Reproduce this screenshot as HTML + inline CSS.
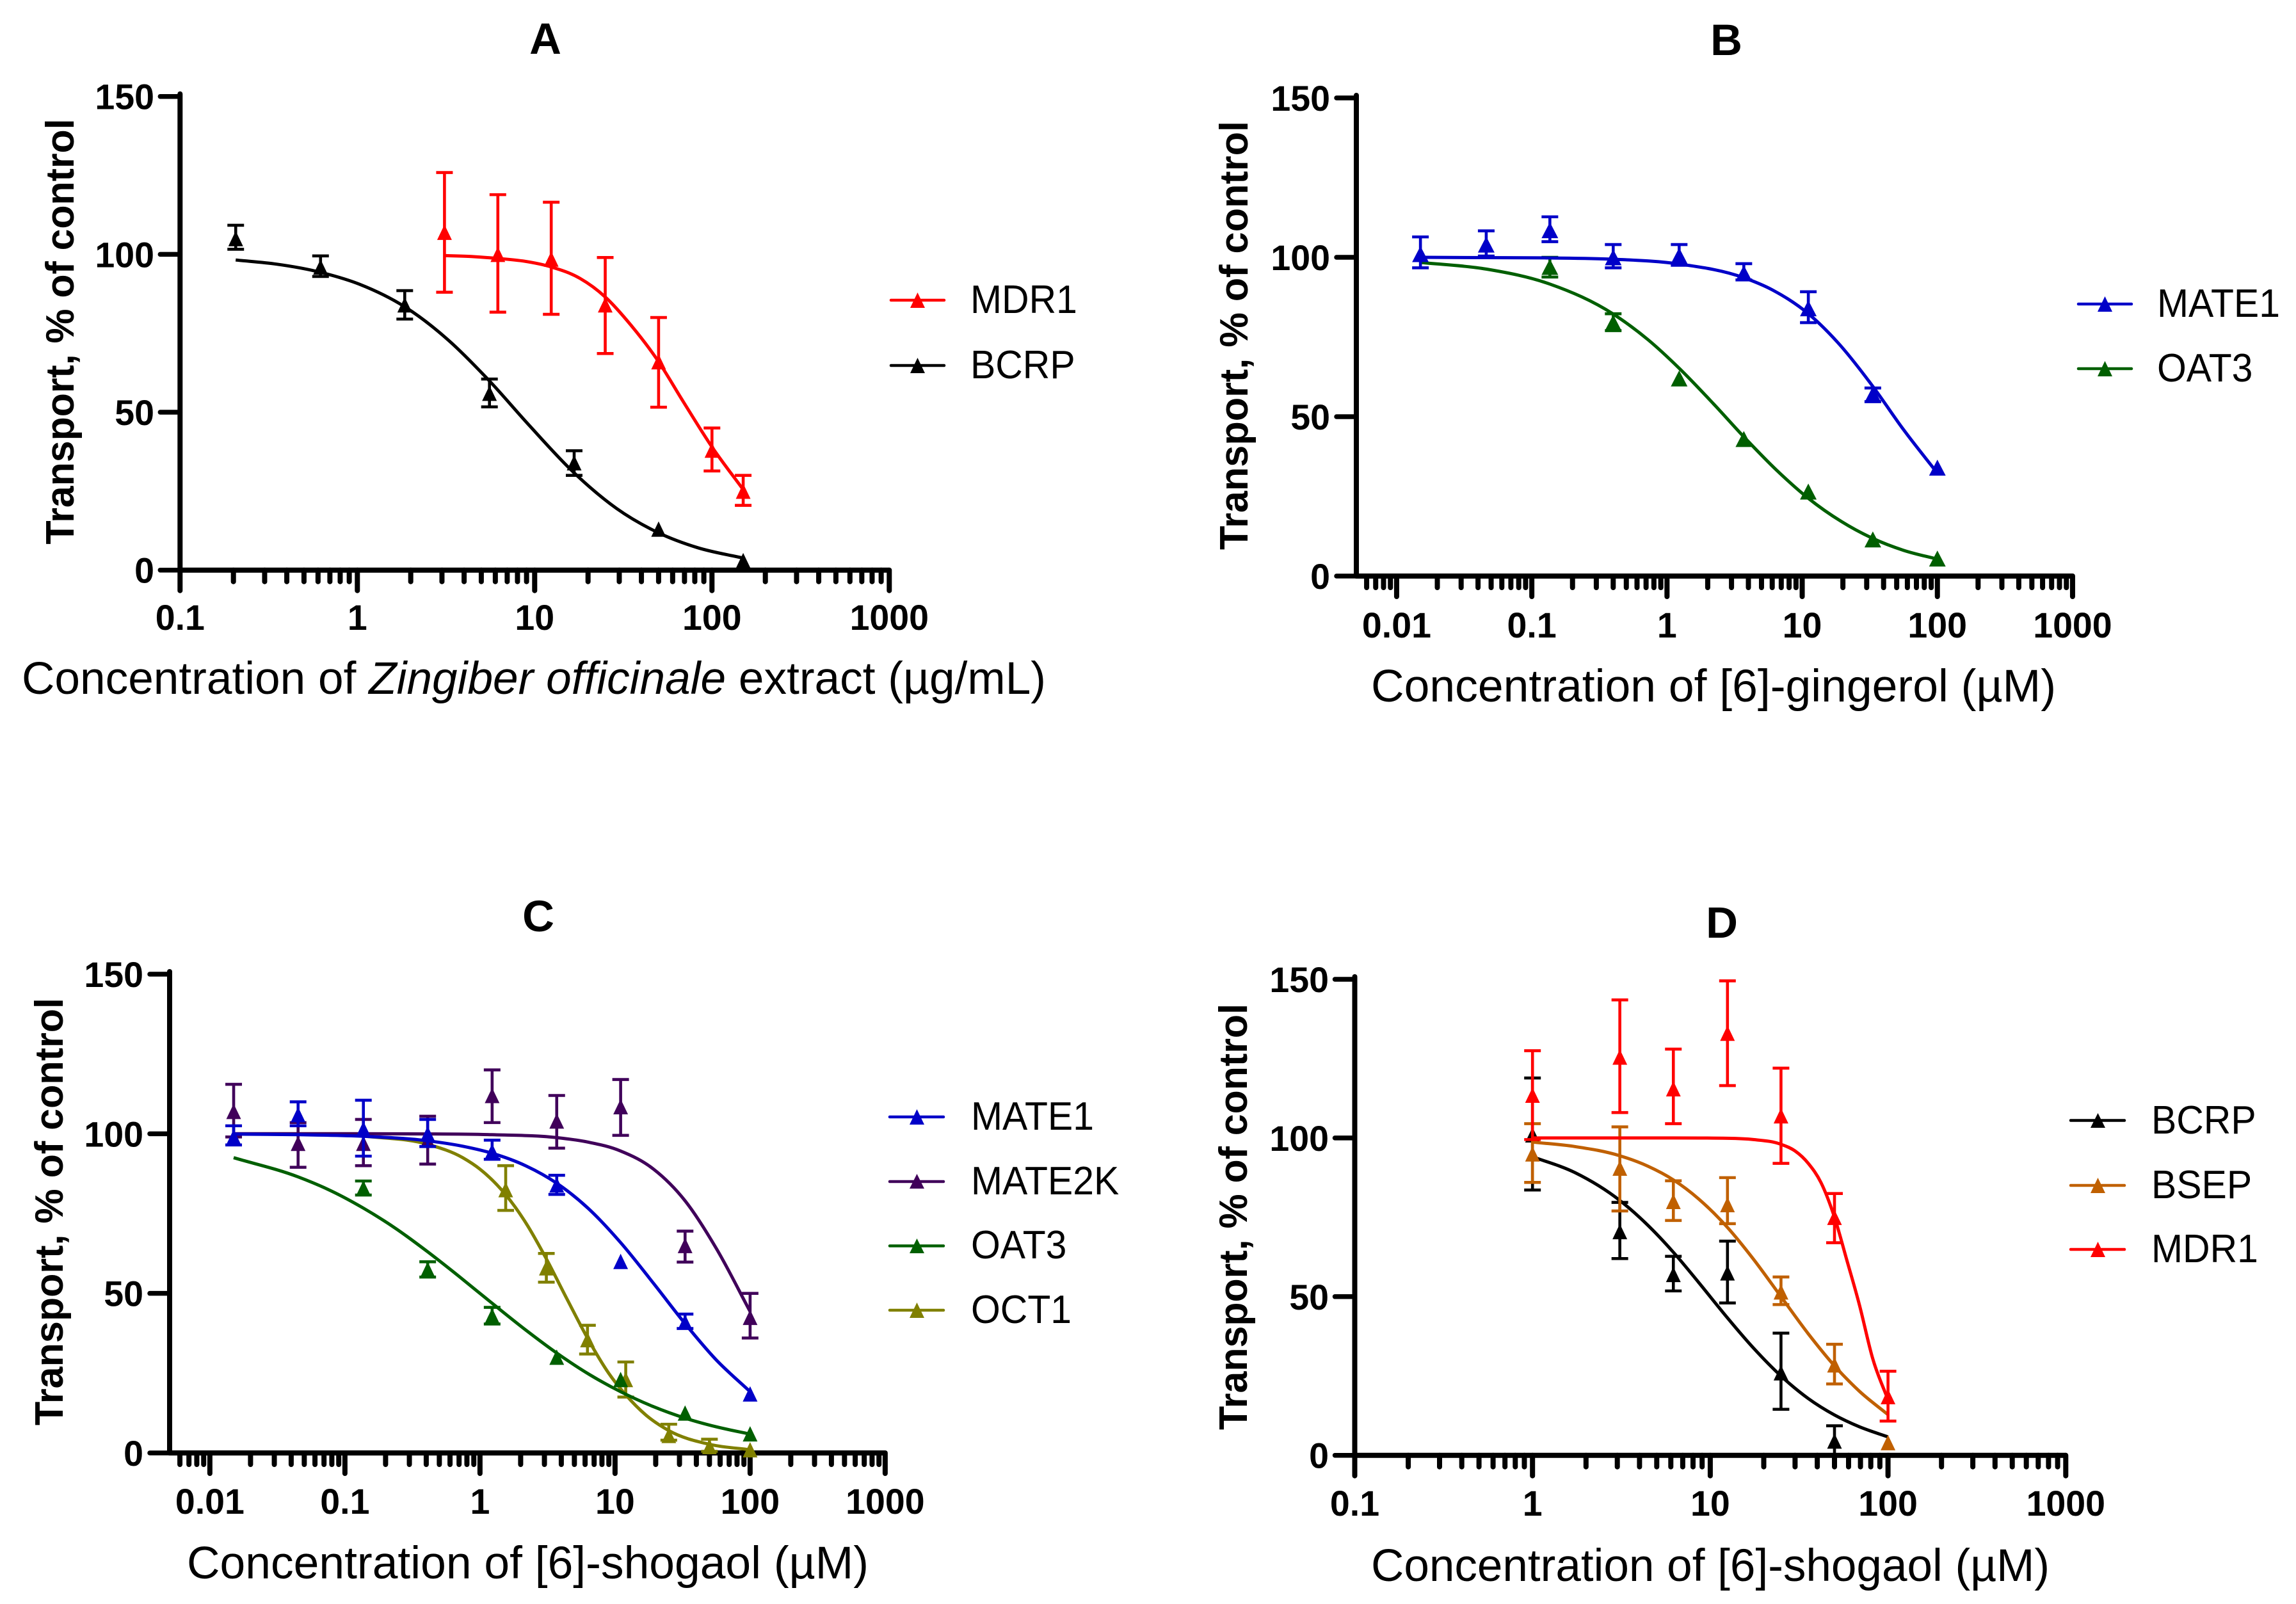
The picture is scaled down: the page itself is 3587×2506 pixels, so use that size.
<!DOCTYPE html>
<html lang="en">
<head>
<meta charset="utf-8">
<title>Transport inhibition dose-response curves</title>
<style>
html,body{margin:0;padding:0;background:#fff;}
svg{display:block;}
text{font-family:"Liberation Sans",Arial,sans-serif;fill:#000;}
.panel-title{font-size:69px;font-weight:bold;text-anchor:middle;}
.y-title{font-size:62px;font-weight:bold;text-anchor:middle;}
.x-title{font-size:71px;}
.legend-text{font-size:62px;}
.tick{font-size:55.5px;font-weight:bold;}
</style>
</head>
<body>
<svg id="chart" xmlns="http://www.w3.org/2000/svg" width="3587" height="2506" viewBox="0 0 3587 2506">
  <rect x="0" y="0" width="3587" height="2506" fill="#ffffff"/>

  <g id="panel-a">
    <text class="panel-title" x="852" y="84">A</text>
    <text class="y-title" transform="translate(115 518) rotate(-90)" textLength="665" lengthAdjust="spacingAndGlyphs">Transport, % of control</text>
    <text class="x-title" x="34" y="1084" textLength="1600" lengthAdjust="spacingAndGlyphs">Concentration of <tspan font-style="italic">Zingiber officinale</tspan> extract (µg/mL)</text>
    <g>
      <g>
        <line x1="1392" x2="1475" y1="469" y2="469" stroke="#ff0000" stroke-width="4.5" stroke-linecap="round"/>
        <polygon points="1422,481 1445,481 1433.5,457" fill="#ff0000"/>
        <text class="legend-text" transform="translate(1516 489) scale(.95 1)">MDR1</text>
      </g>
      <g>
        <line x1="1392" x2="1475" y1="571" y2="571" stroke="#000000" stroke-width="4.5" stroke-linecap="round"/>
        <polygon points="1422,583 1445,583 1433.5,559" fill="#000000"/>
        <text class="legend-text" transform="translate(1516 591) scale(.95 1)">BCRP</text>
      </g>
    </g>
  </g>

  <g id="panel-b">
    <text class="panel-title" x="2697" y="86">B</text>
    <text class="y-title" transform="translate(1949 524) rotate(-90)" textLength="670" lengthAdjust="spacingAndGlyphs">Transport, % of control</text>
    <text class="x-title" x="2142" y="1096" textLength="1070" lengthAdjust="spacingAndGlyphs">Concentration of [6]-gingerol (µM)</text>
    <g>
      <g>
        <line x1="3247" x2="3330" y1="475" y2="475" stroke="#0000c8" stroke-width="4.5" stroke-linecap="round"/>
        <polygon points="3277,487 3300,487 3288.5,463" fill="#0000c8"/>
        <text class="legend-text" transform="translate(3370 495) scale(.95 1)">MATE1</text>
      </g>
      <g>
        <line x1="3247" x2="3330" y1="576" y2="576" stroke="#005f00" stroke-width="4.5" stroke-linecap="round"/>
        <polygon points="3277,588 3300,588 3288.5,564" fill="#005f00"/>
        <text class="legend-text" transform="translate(3370 596) scale(.95 1)">OAT3</text>
      </g>
    </g>
  </g>

  <g id="panel-c">
    <text class="panel-title" x="841" y="1455">C</text>
    <text class="y-title" transform="translate(98 1893) rotate(-90)" textLength="668" lengthAdjust="spacingAndGlyphs">Transport, % of control</text>
    <text class="x-title" x="292" y="2466" textLength="1065" lengthAdjust="spacingAndGlyphs">Concentration of [6]-shogaol (µM)</text>
    <g>
      <g>
        <line x1="1390" x2="1474" y1="1745" y2="1745" stroke="#0000c8" stroke-width="4.5" stroke-linecap="round"/>
        <polygon points="1421,1757 1444,1757 1432.5,1733" fill="#0000c8"/>
        <text class="legend-text" transform="translate(1517 1765) scale(.95 1)">MATE1</text>
      </g>
      <g>
        <line x1="1390" x2="1474" y1="1846" y2="1846" stroke="#40005a" stroke-width="4.5" stroke-linecap="round"/>
        <polygon points="1421,1857 1444,1857 1432.5,1834" fill="#40005a"/>
        <text class="legend-text" transform="translate(1517 1866) scale(.95 1)">MATE2K</text>
      </g>
      <g>
        <line x1="1390" x2="1474" y1="1946.5" y2="1946.5" stroke="#005f00" stroke-width="4.5" stroke-linecap="round"/>
        <polygon points="1421,1958 1444,1958 1432.5,1935" fill="#005f00"/>
        <text class="legend-text" transform="translate(1517 1966) scale(.95 1)">OAT3</text>
      </g>
      <g>
        <line x1="1390" x2="1474" y1="2047" y2="2047" stroke="#808000" stroke-width="4.5" stroke-linecap="round"/>
        <polygon points="1421,2059 1444,2059 1432.5,2035" fill="#808000"/>
        <text class="legend-text" transform="translate(1517 2067) scale(.95 1)">OCT1</text>
      </g>
    </g>
  </g>

  <g id="panel-d">
    <text class="panel-title" x="2690" y="1465">D</text>
    <text class="y-title" transform="translate(1948 1901) rotate(-90)" textLength="666" lengthAdjust="spacingAndGlyphs">Transport, % of control</text>
    <text class="x-title" x="2142" y="2470" textLength="1060" lengthAdjust="spacingAndGlyphs">Concentration of [6]-shogaol (µM)</text>
    <g>
      <g>
        <line x1="3235" x2="3319" y1="1750.5" y2="1750.5" stroke="#000000" stroke-width="4.5" stroke-linecap="round"/>
        <polygon points="3266,1762 3289,1762 3277.5,1739" fill="#000000"/>
        <text class="legend-text" transform="translate(3361 1771) scale(.95 1)">BCRP</text>
      </g>
      <g>
        <line x1="3235" x2="3319" y1="1852" y2="1852" stroke="#c06000" stroke-width="4.5" stroke-linecap="round"/>
        <polygon points="3266,1864 3289,1864 3277.5,1840" fill="#c06000"/>
        <text class="legend-text" transform="translate(3361 1872) scale(.95 1)">BSEP</text>
      </g>
      <g>
        <line x1="3235" x2="3319" y1="1952" y2="1952" stroke="#ff0000" stroke-width="4.5" stroke-linecap="round"/>
        <polygon points="3266,1964 3289,1964 3277.5,1940" fill="#ff0000"/>
        <text class="legend-text" transform="translate(3361 1972) scale(.95 1)">MDR1</text>
      </g>
    </g>
  </g>
</svg>

<script>
// ---------- shared tick values ----------
const yTickValues = [0, 50, 100, 150];
const yTickLabels = ['0', '50', '100', '150'];
const xTicksWide = [0.01, 0.1, 1, 10, 100, 1000];
const xLabelsWide = ['0.01', '0.1', '1', '10', '100', '1000'];
const xTicksNarrow = [0.1, 1, 10, 100, 1000];
const xLabelsNarrow = ['0.1', '1', '10', '100', '1000'];

// ---------- Panel A ----------
const aMdr1Conc = [3.1, 6.2, 12.4, 25, 50, 100, 150];
const aMdr1Mean = [107, 100, 98.5, 84, 66, 38, 25];
const aMdr1Low = [88, 81.7, 81, 68.6, 51.6, 31.4, 20.5];
const aMdr1High = [125.9, 118.9, 116.5, 99, 80, 45, 30];
const aMdr1CurveX = [3.1, 4.4, 6.2, 8.8, 12.4, 18, 25, 35, 50, 68.6, 100, 150];
const aMdr1CurveY = [99.6, 99.3, 98.7, 97.8, 96, 92.4, 86.5, 77.5, 66, 53.5, 39, 25.5];

const aBcrpConc = [0.206, 0.62, 1.85, 5.56, 16.7, 50, 150];
const aBcrpMean = [105, 96, 84, 56, 34, 13, 3];
const aBcrpLow = [101.6, 93, 79.5, 51.7, 30, null, null];
const aBcrpHigh = [109.2, 99.5, 88.5, 60.5, 37.8, null, null];
const aBcrpCurveX = [0.206, 0.35, 0.62, 1.03, 1.85, 3.25, 5.56, 9.3, 16.7, 29, 50, 83, 150];
const aBcrpCurveY = [98.2, 96.9, 94.3, 90.5, 83.4, 72.9, 59.9, 45.9, 30.8, 19.5, 11.8, 7.1, 3.8];

// ---------- Panel B ----------
const bMate1Conc = [0.015, 0.046, 0.136, 0.4, 1.23, 3.7, 11.1, 33.3, 100];
const bMate1Mean = [101, 104, 108.5, 100, 100.5, 95, 84, 57, 34];
const bMate1Low = [96.7, 100.4, 104.9, 96.7, 97.5, 92.9, 79.5, 54.7, null];
const bMate1High = [106.4, 108.3, 112.7, 104, 104, 98, 89.2, 59, null];
const bMate1CurveX = [0.015, 0.046, 0.136, 0.4, 1.23, 3.7, 6, 11.1, 18.3, 33.3, 56, 100];
const bMate1CurveY = [100, 99.9, 99.8, 99.4, 97.9, 93.6, 89.8, 82.3, 73.3, 59.5, 46, 32.3];

const bOat3Conc = [0.136, 0.4, 1.23, 3.7, 11.1, 33.3, 100];
const bOat3Mean = [97, 79.5, 62, 43, 26.5, 11.5, 5.5];
const bOat3Low = [93.8, 77, null, null, null, null, null];
const bOat3High = [100, 82.3, null, null, null, null, null];
const bOat3CurveX = [0.015, 0.046, 0.136, 0.4, 0.726, 1.23, 2.2, 3.7, 6.4, 11.1, 19.5, 33.3, 56, 100];
const bOat3CurveY = [98.4, 96.3, 91.6, 82.2, 74.1, 65.2, 54.1, 43.7, 33.4, 24.4, 17.1, 11.8, 8.1, 5.3];

// ---------- Panel C ----------
const cMate1Conc = [0.015, 0.045, 0.137, 0.41, 1.23, 3.7, 11, 33, 100];
const cMate1Mean = [99, 106, 101.5, 100, 94.5, 84, 60, 41, 18.5];
const cMate1Low = [96.5, 102.5, 93, 96, 92, 81, null, 39, null];
const cMate1High = [102.5, 110, 110.5, 104.5, 98, 87, null, 43.5, null];
const cMate1CurveX = [0.015, 0.045, 0.137, 0.41, 0.745, 1.23, 2.2, 3.7, 6.3, 11, 19.3, 33, 56, 100];
const cMate1CurveY = [99.9, 99.7, 99.2, 97.8, 96.1, 93.9, 89.9, 84.5, 76.7, 65.9, 53.1, 40.5, 29.2, 19.2];

const cMate2kConc = [0.015, 0.045, 0.137, 0.41, 1.23, 3.7, 11, 33, 100];
const cMate2kMean = [107, 97, 97, 98, 112, 104, 108.5, 65, 42.5];
const cMate2kLow = [99, 89.5, 90, 90.5, 103.5, 95.5, 99.5, 59.8, 36];
const cMate2kHigh = [115.5, 103.5, 104.5, 105.5, 120, 112, 117, 69.5, 50];
const cMate2kCurveX = [0.015, 0.137, 0.41, 1.23, 3.7, 6.3, 11, 19.3, 33, 56, 100];
const cMate2kCurveY = [100, 100, 99.95, 99.7, 98.8, 97.4, 94.6, 88.9, 79, 64.2, 44.3];

const cOat3Conc = [0.137, 0.41, 1.23, 3.7, 11, 33, 100];
const cOat3Mean = [83, 57.5, 43, 30, 23, 12.5, 6];
const cOat3Low = [80.8, 55.1, 40.4, null, null, null, null];
const cOat3High = [85.2, 59.9, 45.6, null, null, null, null];
const cOat3CurveX = [0.015, 0.045, 0.08, 0.137, 0.24, 0.41, 0.7, 1.23, 2.2, 3.7, 6.5, 11, 19, 33, 56, 100];
const cOat3CurveY = [92.5, 86.5, 82, 76.7, 70.2, 63, 55.3, 46.9, 38.4, 31.3, 24.5, 19.2, 14.6, 10.9, 8.2, 5.9];

const cOct1Conc = [1.55, 3.1, 6.25, 12, 25, 50, 100];
const cOct1Mean = [82.5, 58, 35.5, 23, 5.5, 2, 1];
const cOct1Low = [76, 53.5, 31, 17.5, 4, 0.5, null];
const cOct1High = [90, 62.5, 40, 28.5, 9, 4.3, null];
const cOct1CurveX = [0.137, 0.41, 0.745, 1, 1.55, 2.2, 3.1, 4.4, 6.25, 9, 12, 17, 25, 50, 100];
const cOct1CurveY = [99.3, 96.7, 92.5, 88.9, 80.9, 71.9, 60.8, 48.3, 36, 24.9, 18.2, 11.8, 7, 2.7, 1];

// ---------- Panel D ----------
const dBcrpConc = [1, 3.1, 6.2, 12.5, 25, 50];
const dBcrpMean = [101, 70.5, 57, 57.5, 26, 4.5];
const dBcrpLow = [83.6, 62, 51.8, 48, 14.5, 0];
const dBcrpHigh = [118.9, 79.7, 62.7, 67.5, 38.5, 9.3];
const dBcrpCurveX = [1, 1.73, 3.1, 4.4, 6.2, 8.6, 12.5, 17.5, 25, 35.6, 50, 69, 100];
const dBcrpCurveY = [94.1, 89.1, 80.3, 72.8, 64, 54.5, 43.3, 33.8, 25, 17.9, 12.7, 9, 5.8];

const dBsepConc = [1, 3.1, 6.2, 12.5, 25, 50, 100];
const dBsepMean = [95, 90.5, 80, 79, 51.5, 28.5, 4];
const dBsepLow = [86, 77, 74, 73, 47.5, 22.5, null];
const dBsepHigh = [104.5, 103.5, 86.5, 87.5, 56.2, 35, null];
const dBsepCurveX = [1, 1.73, 3.1, 4.46, 6.2, 8.6, 12.5, 17.5, 25, 35.6, 50, 69, 100];
const dBsepCurveY = [98.7, 97.3, 94.4, 91.1, 86.8, 80.8, 71.8, 61.8, 50, 38.3, 28.2, 20.2, 12.8];

const dMdr1Conc = [1, 3.1, 6.2, 12.5, 25, 50, 100];
const dMdr1Mean = [113.5, 125.5, 115.5, 133, 107, 75, 18.5];
const dMdr1Low = [99.5, 108, 104.5, 116.5, 92, 67, 10.8];
const dMdr1High = [127.5, 143.5, 128, 149.5, 122, 82.5, 26.5];
const dMdr1CurveX = [1, 3.1, 6.2, 12.5, 17.5, 25, 30, 35.6, 42, 50, 59, 69, 82, 100];
const dMdr1CurveY = [100, 100, 100, 99.9, 99.5, 98, 95.9, 92, 85.9, 75, 61, 47.5, 30.5, 17.5];

// ---------- Panels: wiring of data to axes ----------
const panels = [
  { id: 'panel-a', axisX: 281.3, logMin: -1, perDecade: 277, yZero: 890.7, yTop: 150.7, tickRight: 241, xLabelBase: 984,
    markerW: 23, markerH: 24, xTicks: xTicksNarrow, xLabels: xLabelsNarrow,
    series: [
      { name: 'MDR1', color: '#ff0000', conc: aMdr1Conc, mean: aMdr1Mean, low: aMdr1Low, high: aMdr1High, cx: aMdr1CurveX, cy: aMdr1CurveY },
      { name: 'BCRP', color: '#000000', conc: aBcrpConc, mean: aBcrpMean, low: aBcrpLow, high: aBcrpHigh, cx: aBcrpCurveX, cy: aBcrpCurveY }
    ] },
  { id: 'panel-b', axisX: 2119, logMin: -2.298, perDecade: 211.2, yZero: 900, yTop: 153, tickRight: 2078, xLabelBase: 996,
    markerW: 26, markerH: 25, xTicks: xTicksWide, xLabels: xLabelsWide,
    series: [
      { name: 'OAT3', color: '#005f00', conc: bOat3Conc, mean: bOat3Mean, low: bOat3Low, high: bOat3High, cx: bOat3CurveX, cy: bOat3CurveY },
      { name: 'MATE1', color: '#0000c8', conc: bMate1Conc, mean: bMate1Mean, low: bMate1Low, high: bMate1High, cx: bMate1CurveX, cy: bMate1CurveY }
    ] },
  { id: 'panel-c', axisX: 265, logMin: -2.298, perDecade: 211, yZero: 2270, yTop: 1522, tickRight: 224, xLabelBase: 2365,
    markerW: 23, markerH: 24, xTicks: xTicksWide, xLabels: xLabelsWide,
    series: [
      { name: 'OCT1', color: '#808000', conc: cOct1Conc, mean: cOct1Mean, low: cOct1Low, high: cOct1High, cx: cOct1CurveX, cy: cOct1CurveY },
      { name: 'OAT3', color: '#005f00', conc: cOat3Conc, mean: cOat3Mean, low: cOat3Low, high: cOat3High, cx: cOat3CurveX, cy: cOat3CurveY },
      { name: 'MATE2K', color: '#40005a', conc: cMate2kConc, mean: cMate2kMean, low: cMate2kLow, high: cMate2kHigh, cx: cMate2kCurveX, cy: cMate2kCurveY },
      { name: 'MATE1', color: '#0000c8', conc: cMate1Conc, mean: cMate1Mean, low: cMate1Low, high: cMate1High, cx: cMate1CurveX, cy: cMate1CurveY }
    ] },
  { id: 'panel-d', axisX: 2116.5, logMin: -1, perDecade: 277.7, yZero: 2273.7, yTop: 1530, tickRight: 2076, xLabelBase: 2368,
    markerW: 23, markerH: 24, xTicks: xTicksNarrow, xLabels: xLabelsNarrow,
    series: [
      { name: 'BCRP', color: '#000000', conc: dBcrpConc, mean: dBcrpMean, low: dBcrpLow, high: dBcrpHigh, cx: dBcrpCurveX, cy: dBcrpCurveY },
      { name: 'BSEP', color: '#c06000', conc: dBsepConc, mean: dBsepMean, low: dBsepLow, high: dBsepHigh, cx: dBsepCurveX, cy: dBsepCurveY },
      { name: 'MDR1', color: '#ff0000', conc: dMdr1Conc, mean: dMdr1Mean, low: dMdr1Low, high: dMdr1High, cx: dMdr1CurveX, cy: dMdr1CurveY }
    ] }
];

const SVG_NS = 'http://www.w3.org/2000/svg';

function make(parent, tag, attrs) {
  const node = document.createElementNS(SVG_NS, tag);
  for (const key in attrs) node.setAttribute(key, attrs[key]);
  parent.appendChild(node);
  return node;
}

// Monotone cubic path through the read curve points (same method as a monotone-X spline).
function monotonePath(xs, ys) {
  const n = xs.length;
  const d = [], m = [];
  for (let i = 0; i < n - 1; i++) d.push((ys[i + 1] - ys[i]) / (xs[i + 1] - xs[i]));
  m.push(d[0]);
  for (let i = 1; i < n - 1; i++) {
    if (d[i - 1] * d[i] <= 0) { m.push(0); continue; }
    const h0 = xs[i] - xs[i - 1], h1 = xs[i + 1] - xs[i];
    m.push((d[i - 1] * h1 + d[i] * h0) / (h0 + h1));
  }
  m.push(d[n - 2]);
  for (let i = 0; i < n - 1; i++) {
    if (d[i] === 0) { m[i] = 0; m[i + 1] = 0; continue; }
    const a = m[i] / d[i], b = m[i + 1] / d[i], s = a * a + b * b;
    if (s > 9) { const t = 3 / Math.sqrt(s); m[i] = t * a * d[i]; m[i + 1] = t * b * d[i]; }
  }
  let path = 'M' + xs[0].toFixed(1) + ' ' + ys[0].toFixed(1);
  for (let i = 0; i < n - 1; i++) {
    const h = (xs[i + 1] - xs[i]) / 3;
    path += 'C' + (xs[i] + h).toFixed(1) + ' ' + (ys[i] + m[i] * h).toFixed(1) + ' ' +
      (xs[i + 1] - h).toFixed(1) + ' ' + (ys[i + 1] - m[i + 1] * h).toFixed(1) + ' ' +
      xs[i + 1].toFixed(1) + ' ' + ys[i + 1].toFixed(1);
  }
  return path;
}

function drawPanel(p) {
  const root = document.getElementById(p.id);
  const xScale = function (v) { return p.axisX + (Math.log10(v) - p.logMin) * p.perDecade; };
  const yScale = function (v) { return p.yZero + (p.yTop - p.yZero) * v / 150; };
  const xEnd = xScale(1000);

  // Axes
  const axes = make(root, 'g', { stroke: '#000', 'stroke-linecap': 'round', fill: 'none' });
  
  

  const yAxisLine = make(axes, 'line', { x1: p.axisX, x2: p.axisX, y1: yScale(150) - 4, y2: p.yZero, 'stroke-width': 8 });
  
  

  const xAxisLine = make(axes, 'line', { x1: p.axisX, x2: xEnd, y1: p.yZero, y2: p.yZero, 'stroke-width': 8, 'stroke-linecap': 'butt' });
  
  

  yTickValues.forEach(function (v, i) {
    const tick = make(axes, 'line', { x1: p.axisX - 31, x2: p.axisX, y1: yScale(v), y2: yScale(v), 'stroke-width': 7.5 });
    
    

    const label = make(root, 'text', { class: 'tick', x: p.tickRight, y: yScale(v) + 20, 'text-anchor': 'end' });
    
    
    label.textContent = yTickLabels[i];
  });

  p.xTicks.forEach(function (v, i) {
    const tick = make(axes, 'line', { x1: xScale(v), x2: xScale(v), y1: p.yZero, y2: p.yZero + 32, 'stroke-width': 8 });
    
    

    const label = make(root, 'text', { class: 'tick', x: xScale(v), y: p.xLabelBase, 'text-anchor': 'middle' });
    
    
    label.textContent = p.xLabels[i];
  });

  // Log minor ticks, from the axis minimum up to 1000
  for (let dec = Math.floor(p.logMin); dec < 3; dec++) {
    for (let mult = 2; mult <= 9; mult++) {
      const v = mult * Math.pow(10, dec);
      if (Math.log10(v) <= p.logMin + 0.001) continue;
      const minor = make(axes, 'line', { x1: xScale(v), x2: xScale(v), y1: p.yZero, y2: p.yZero + 18, 'stroke-width': 8 });
      
      
    }
  }

  // Series
  p.series.forEach(function (s) {
    const group = make(root, 'g', { stroke: s.color, fill: 'none' });
    
    

    const curve = make(group, 'path', {
      d: monotonePath(s.cx.map(xScale), s.cy.map(yScale)),
      'stroke-width': 5, 'stroke-linejoin': 'round'
    });
    
    

    s.conc.forEach(function (c, i) {
      const x = xScale(c);
      const y = yScale(s.mean[i]);

      if (s.low[i] !== null && s.high[i] !== null) {
        const yLow = yScale(s.low[i]);
        const yHigh = yScale(s.high[i]);
        const bar = make(group, 'path', {
          d: 'M' + x + ' ' + yHigh + 'V' + yLow + 'M' + (x - 13) + ' ' + yHigh + 'H' + (x + 13) + 'M' + (x - 13) + ' ' + yLow + 'H' + (x + 13),
          'stroke-width': 4.6
        });
        
        
      }

      const w = p.markerW / 2;
      const h = p.markerH / 2;
      const marker = make(group, 'polygon', {
        points: (x - w) + ',' + (y + h) + ' ' + (x + w) + ',' + (y + h) + ' ' + x + ',' + (y - h),
        fill: s.color, stroke: 'none'
      });
      
      
    });
  });
}

panels.forEach(drawPanel);
</script>
</body>
</html>
